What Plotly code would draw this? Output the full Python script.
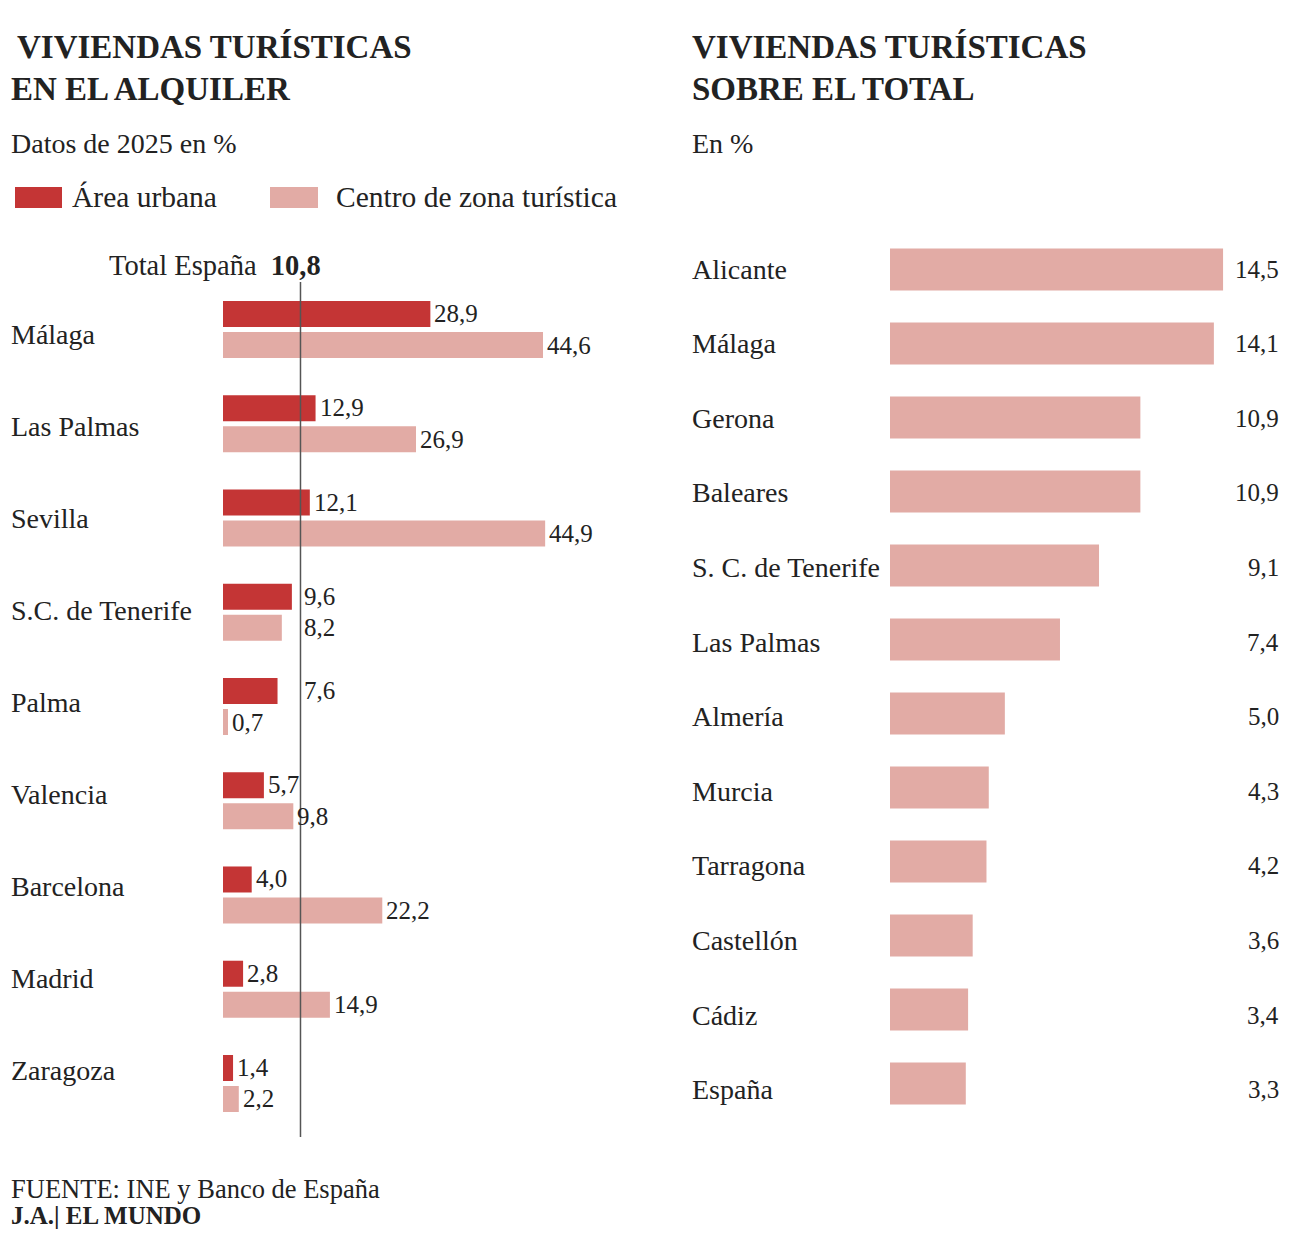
import plotly.graph_objects as go

# ---------------- data ----------------
left_cities = ["Málaga", "Las Palmas", "Sevilla", "S.C. de Tenerife", "Palma",
               "Valencia", "Barcelona", "Madrid", "Zaragoza"]
area_urbana = [28.9, 12.9, 12.1, 9.6, 7.6, 5.7, 4.0, 2.8, 1.4]
centro_turistico = [44.6, 26.9, 44.9, 8.2, 0.7, 9.8, 22.2, 14.9, 2.2]
total_espana = 10.8

right_cities = ["Alicante", "Málaga", "Gerona", "Baleares", "S. C. de Tenerife",
                "Las Palmas", "Almería", "Murcia", "Tarragona", "Castellón",
                "Cádiz", "España"]
right_values = [14.5, 14.1, 10.9, 10.9, 9.1, 7.4, 5.0, 4.3, 4.2, 3.6, 3.4, 3.3]

# ---------------- style ----------------
W, H = 1292, 1256
RED = "#C43535"
PINK = "#E2ABA5"
TXT = "#222222"
FONT = "Liberation Serif"


def px(x):
    return x / W


def py(y):
    return 1 - y / H


def fmt(v):
    return f"{v:.1f}".replace(".", ",")


fig = go.Figure()

fig.add_trace(go.Bar(y=left_cities, x=area_urbana, orientation="h",
                     marker=dict(color=RED, line=dict(width=0)),
                     xaxis="x", yaxis="y", name="Área urbana",
                     hoverinfo="skip"))
fig.add_trace(go.Bar(y=left_cities, x=centro_turistico, orientation="h",
                     marker=dict(color=PINK, line=dict(width=0)),
                     xaxis="x", yaxis="y", name="Centro de zona turística",
                     hoverinfo="skip"))
fig.add_trace(go.Bar(y=right_cities, x=right_values, orientation="h",
                     marker=dict(color=PINK, line=dict(width=0)),
                     width=0.57,
                     xaxis="x2", yaxis="y2", name="Sobre el total",
                     hoverinfo="skip"))

ann = []


def text(x, y, t, size=27, xanchor="left", yanchor="middle", xref="paper",
         yref="paper", xshift=0, yshift=0, color=TXT):
    if xanchor == "left":
        xshift -= 1
    elif xanchor == "right":
        xshift += 1
    ann.append(dict(x=x, y=y, text=t, xref=xref, yref=yref, showarrow=False,
                    xanchor=xanchor, yanchor=yanchor, xshift=xshift,
                    yshift=yshift, borderpad=0, borderwidth=0,
                    font=dict(family=FONT, size=size, color=color)))


# titles
text(px(18), py(47), "<b>VIVIENDAS TURÍSTICAS</b>", size=33)
text(px(12), py(89), "<b>EN EL ALQUILER</b>", size=33)
text(px(12), py(144), "Datos de 2025 en %", size=28)
text(px(693), py(47), "<b>VIVIENDAS TURÍSTICAS</b>", size=33)
text(px(693), py(89), "<b>SOBRE EL TOTAL</b>", size=33)
text(px(693), py(144), "En %", size=28)

# legend
shapes = []
shapes.append(dict(type="rect", xref="paper", yref="paper",
                   x0=px(15), x1=px(62), y0=py(208), y1=py(187),
                   fillcolor=RED, line=dict(width=0)))
shapes.append(dict(type="rect", xref="paper", yref="paper",
                   x0=px(270), x1=px(318), y0=py(208), y1=py(187),
                   fillcolor=PINK, line=dict(width=0)))
text(px(73), py(197), "Área urbana", size=29.5)
text(px(337), py(197), "Centro de zona turística", size=29.5)

# total line + label
shapes.append(dict(type="line", xref="x", yref="paper", x0=total_espana,
                   x1=total_espana, y0=py(1137), y1=py(282),
                   line=dict(color="#555555", width=1.5), layer="above"))
text(total_espana, py(265), "Total España  <b>" + fmt(total_espana) + "</b>",
     size=28.5, xanchor="right", xref="x", xshift=20)

# left category labels & values
for i, (c, a, b) in enumerate(zip(left_cities, area_urbana, centro_turistico)):
    text(px(12), py(334 + i * 92.1), c, size=28)
    for v, ys in ((a, 16), (b, -15.5)):
        lx = v
        if v < total_espana - 1 and total_espana - v < 3.5:
            lx = total_espana
        text(lx, c, fmt(v), size=25, xref="x", yref="y", xshift=5, yshift=ys)

# right category labels & values
for i, (c, v) in enumerate(zip(right_cities, right_values)):
    yy = py(269 + i * 74.6)
    text(px(693), yy, c, size=28)
    text(px(1278), yy, fmt(v), size=25, xanchor="right")

# footer
text(px(12), py(1189), "FUENTE: INE y Banco de España", size=26.5)
text(px(12), py(1215), "<b>J.A.| EL MUNDO</b>", size=25)

axis_common = dict(showgrid=False, zeroline=False, showticklabels=False,
                   showline=False, ticks="", fixedrange=True)

fig.update_layout(
    width=W, height=H,
    margin=dict(l=0, r=0, t=0, b=0),
    paper_bgcolor="white", plot_bgcolor="white",
    showlegend=False,
    barmode="group", bargap=0.342, bargroupgap=0.161,
    xaxis=dict(domain=[px(223), px(223 + 50 * 7.175)], range=[0, 50],
               anchor="y", **axis_common),
    yaxis=dict(domain=[py(1130.6), py(282.4)], range=[8.5, -0.5],
               type="category", categoryorder="array",
               categoryarray=left_cities, anchor="x", **axis_common),
    xaxis2=dict(domain=[px(890), px(890 + 16 * 22.97)], range=[0, 16],
                anchor="y2", **axis_common),
    yaxis2=dict(domain=[py(1120.5), py(232.5)], range=[11.5, -0.5],
                type="category", categoryorder="array",
                categoryarray=right_cities, anchor="x2", **axis_common),
    annotations=ann,
    shapes=shapes,
    font=dict(family=FONT, color=TXT),
)

fig.write_html("out.html")
